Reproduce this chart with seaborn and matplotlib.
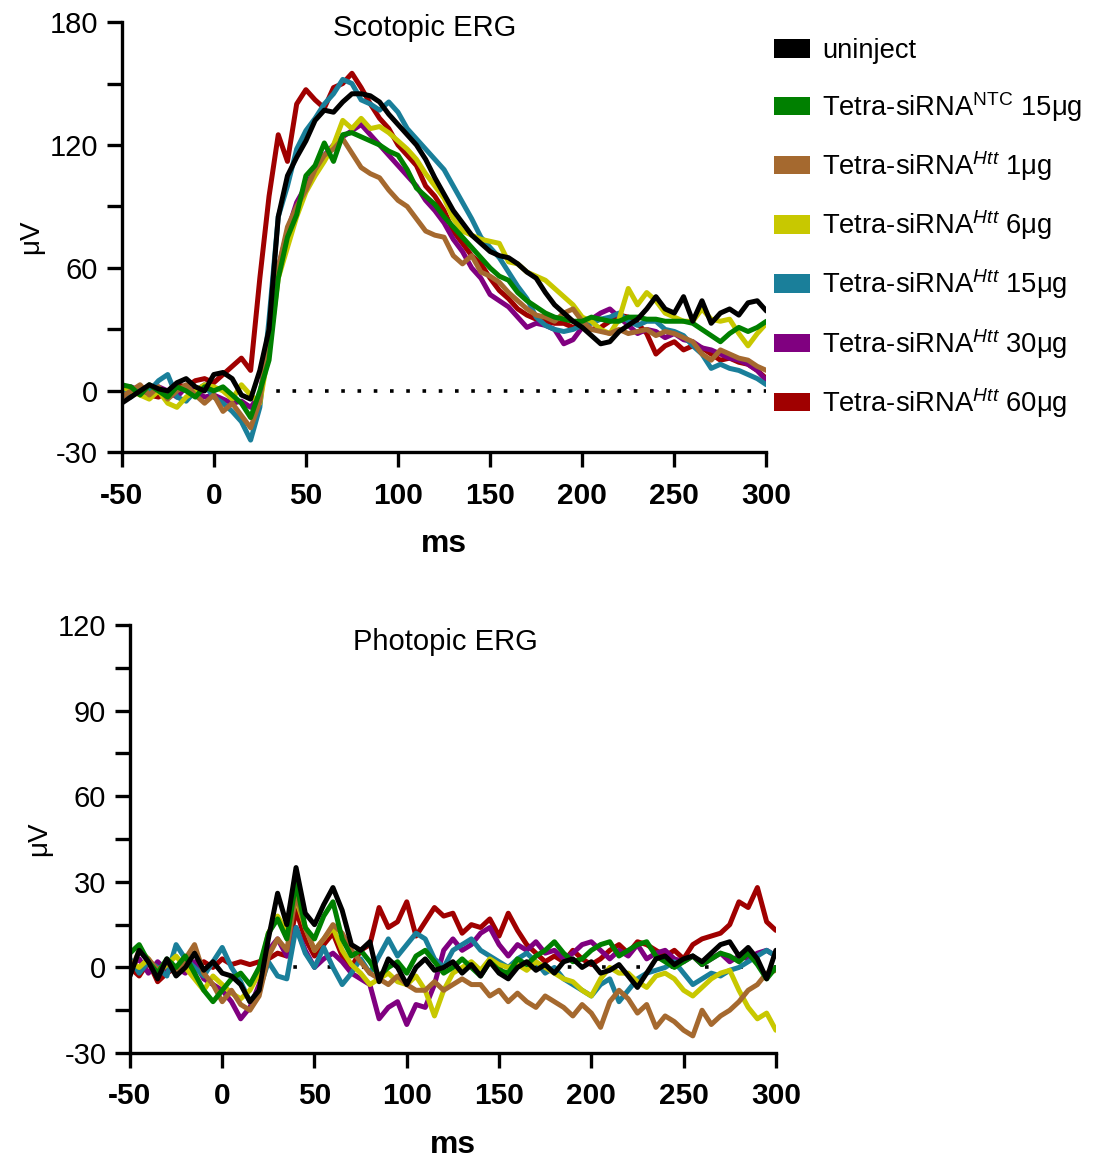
import numpy as np
import pandas as pd
import seaborn as sns
import matplotlib.pyplot as plt
from matplotlib.patches import Patch
from matplotlib.ticker import FixedLocator

# time axis (ms), values every 5 ms
t = np.arange(-50, 301, 5)

groups = ["uninject", "NTC 15", "Htt 1", "Htt 6", "Htt 15", "Htt 30", "Htt 60"]
labels = [
    "uninject",
    r"Tetra-siRNA$^{\mathrm{NTC}}$ 15μg",
    r"Tetra-siRNA$^{Htt}$ 1μg",
    r"Tetra-siRNA$^{Htt}$ 6μg",
    r"Tetra-siRNA$^{Htt}$ 15μg",
    r"Tetra-siRNA$^{Htt}$ 30μg",
    r"Tetra-siRNA$^{Htt}$ 60μg",
]
colors = ["#000000", "#008000", "#A5692F", "#C8C800", "#1A7F9A", "#800080", "#A00000"]

# Scotopic ERG (uV)
scot_uninject = [-6, -3, 0, 3, 1, 0, 4, 6, 2, 0, 8, 9, 6, -2, -4, 10, 30, 85, 105, 114, 122, 132, 137, 136, 141,
                 145, 145, 144, 141, 135, 130, 125, 120, 113, 104, 96, 88, 82, 76, 72, 68, 66, 65, 62, 58, 55, 48,
                 42, 38, 34, 31, 27, 23, 24, 29, 32, 35, 40, 46, 40, 38, 46, 34, 44, 33, 38, 40, 37, 43, 44, 39]
scot_ntc15 = [3, 2, -2, 3, 0, -3, 2, 0, -3, 2, 0, 2, -2, -6, -13, 0, 15, 55, 75, 86, 105, 110, 121, 112, 125,
              126, 124, 122, 120, 117, 115, 108, 99, 95, 91, 85, 80, 75, 70, 65, 60, 56, 54, 48, 44, 41, 38,
              36, 35, 34, 34, 36, 35, 34, 34, 36, 36, 35, 35, 34, 34, 34, 33, 30, 27, 24, 28, 31, 29, 31, 34]
scot_htt1 = [-3, 0, 3, -2, 2, -4, 0, 3, -2, -6, -2, -10, -6, -12, -18, -5, 30, 60, 80, 90, 98, 108, 115, 118, 123,
             116, 109, 106, 104, 98, 93, 90, 84, 78, 76, 75, 66, 62, 66, 58, 56, 53, 48, 44, 40, 37, 36,
             34, 38, 40, 34, 30, 29, 28, 30, 28, 29, 30, 27, 29, 28, 26, 24, 18, 15, 20, 18, 16, 15, 12, 10]
scot_htt6 = [2, 0, -2, -4, 0, -6, -8, -3, 0, 3, 2, 0, -4, 3, -2, -6, 20, 55, 70, 85, 97, 105, 112, 120, 132,
             128, 133, 128, 129, 126, 122, 118, 113, 106, 100, 94, 84, 78, 76, 74, 73, 72, 63, 62, 58, 56, 54,
             50, 46, 42, 36, 34, 30, 28, 35, 50, 42, 48, 44, 38, 36, 34, 34, 40, 35, 34, 35, 28, 22, 28, 33]
scot_htt15 = [0, -3, 2, 0, 5, 8, -3, -5, 0, 3, -3, -6, -10, -15, -24, -8, 35, 85, 100, 118, 127, 133, 140, 145, 152,
              150, 142, 140, 137, 141, 136, 128, 123, 118, 113, 108, 100, 92, 84, 75, 70, 65, 58, 51, 45, 36, 32,
              30, 29, 30, 32, 33, 35, 36, 38, 34, 32, 34, 34, 30, 29, 27, 22, 18, 11, 13, 11, 10, 8, 6, 3]
scot_htt30 = [-2, 2, 0, -3, 2, 0, -3, 2, 0, -3, -2, -4, -6, -5, -8, -2, 25, 60, 78, 92, 100, 108, 115, 120, 124,
              127, 130, 125, 120, 115, 110, 105, 100, 93, 88, 82, 74, 68, 60, 55, 47, 44, 41, 36, 31, 33, 32,
              30, 23, 25, 31, 35, 38, 40, 36, 32, 28, 30, 29, 26, 28, 25, 24, 21, 20, 18, 16, 15, 13, 10, 5]
scot_htt60 = [-3, 0, 2, -2, -3, 0, 3, 2, 5, 6, 4, 8, 12, 16, 10, 55, 95, 125, 112, 140, 147, 142, 138, 148, 150,
              155, 148, 140, 133, 128, 120, 115, 110, 100, 95, 88, 78, 72, 66, 62, 55, 49, 45, 40, 37, 35, 34,
              33, 33, 31, 32, 30, 31, 34, 37, 36, 33, 28, 18, 22, 24, 20, 22, 21, 18, 15, 16, 14, 13, 10, 6]

# Photopic ERG (uV)
phot_uninject = [-3, 6, 2, -4, 3, -3, 0, 5, -1, 2, -2, -3, -6, -12, -8, 10, 26, 15, 35, 19, 15, 22, 28, 20, 8,
                 6, 9, -5, 3, 0, -6, 0, 3, -1, 0, 2, -2, 1, -3, 2, -2, -4, 0, 2, -1, 1, -2, 2, 3, 0, 2,
                 -2, -1, 1, -3, -7, -2, 3, 4, 1, 3, 4, 2, 5, 8, 9, 4, 7, 3, -4, 6]
phot_ntc15 = [5, 8, 2, -2, 3, 0, 4, -2, -8, -12, -8, -4, -2, -6, 0, 12, 17, 10, 30, 14, 10, 18, 23, 10, 4,
              6, 2, -3, 0, 2, -2, 4, 6, 2, -2, 0, 3, 0, -3, 2, -1, -2, 3, 1, 4, 6, 9, 5, 2, 3, 6,
              8, 9, 4, 6, 8, 9, 4, 2, 0, 2, 4, 1, 3, 5, 4, 2, 5, 1, -4, 0]
phot_htt1 = [-2, 6, 3, -1, 2, -2, 3, 8, -2, -6, -12, -8, -13, -15, -10, 4, 10, 6, 26, 14, 6, 10, 15, 12, 6,
             2, -2, -4, -6, -3, -6, -8, -8, -5, -8, -6, -4, -6, -6, -10, -8, -12, -9, -12, -14, -10, -12,
             -14, -17, -13, -16, -21, -12, -8, -11, -16, -13, -21, -17, -19, -22, -24, -15, -20, -17, -15,
             -12, -8, -6, -2, -1]
phot_htt6 = [2, 0, 3, -2, 1, 4, 0, -4, -8, -3, -6, -9, -11, -8, -2, 12, 18, 12, 24, 14, 6, 10, 14, 6, 1,
             -2, -6, -4, -2, -5, -6, -3, -8, -17, -8, -2, 0, 2, -1, 3, 1, 0, 1, -1, 2, 0, -2, -4, -5, -8,
             -10, -4, 0, -2, -2, -5, -7, -3, -2, -4, -8, -10, -7, -4, -2, -1, -8, -14, -18, -16, -22]
phot_htt15 = [3, -2, 2, 0, -3, 8, 3, 0, -3, 2, 7, 0, -5, -12, -8, 2, -3, -4, 14, 5, 0, 7, 0, -6, -2,
              3, -2, 4, 10, 4, 8, 12, 10, 3, 0, 6, 8, 10, 6, 4, 2, 0, 3, 5, 2, -2, 0, -4, -6, -8, -10,
              -6, -4, -12, -8, -4, -2, -1, 0, 2, -2, -6, -4, -2, -3, -1, 0, 2, 4, 6, 4]
phot_htt30 = [0, 3, -2, 2, -1, 0, -2, 2, -4, -6, -8, -12, -18, -14, -6, 6, 10, 4, 14, 6, 0, 3, 5, 2, -2,
              -4, -6, -18, -14, -12, -20, -13, -14, -6, 6, 10, 6, 8, 12, 14, 8, 4, 8, 6, 9, 5, 6, 3, 5, 8,
              9, 6, 3, 6, 4, 8, 3, 5, 6, 3, 2, 4, 1, 3, 5, 2, 4, 3, 5, 6, 4]
phot_htt60 = [0, -3, 2, -5, -2, 0, 3, -1, 2, 0, 3, 1, 2, 1, 2, 3, 5, 4, 20, 10, 4, 8, 12, 4, 0,
              6, 8, 21, 14, 16, 23, 11, 16, 21, 18, 19, 12, 15, 14, 17, 11, 19, 13, 8, 5, 2, 4, 2, 6, 3,
              1, 3, 6, 8, 5, 9, 8, 6, 4, 6, 3, 8, 10, 11, 12, 15, 23, 21, 28, 16, 13]

scot = [scot_uninject, scot_ntc15, scot_htt1, scot_htt6, scot_htt15, scot_htt30, scot_htt60]
phot = [phot_uninject, phot_ntc15, phot_htt1, phot_htt6, phot_htt15, phot_htt30, phot_htt60]

sns.set_style("ticks")
plt.rcParams["font.family"] = ["Liberation Sans", "DejaVu Sans"]
plt.rcParams["mathtext.fontset"] = "custom"
plt.rcParams["mathtext.rm"] = "Liberation Sans"
plt.rcParams["mathtext.it"] = "Liberation Sans:italic"
plt.rcParams["mathtext.bf"] = "Liberation Sans:bold"
plt.rcParams["axes.unicode_minus"] = False
for k in ["text.color", "axes.labelcolor", "axes.edgecolor", "xtick.color", "ytick.color"]:
    plt.rcParams[k] = "black"

fig = plt.figure(figsize=(11.06, 11.6), dpi=100)
ax1 = fig.add_axes([0.110, 0.610, 0.583, 0.371])
ax2 = fig.add_axes([0.1175, 0.0922, 0.584, 0.369])


def draw_panel(ax, series, ylim, majors, minors, title, tx, ty, zero_start, zero_dash):
    df = pd.DataFrame({"ms": np.tile(t, len(groups)),
                       "uV": np.concatenate(series),
                       "group": np.repeat(groups, len(t))})
    # draw in reverse so the uninjected trace ends up on top
    for g, c in reversed(list(zip(groups, colors))):
        sns.lineplot(data=df[df["group"] == g], x="ms", y="uV", color=c, lw=3.6, ax=ax)
    ax.hlines(0, zero_start, 300, colors="black", lw=2.6, linestyles=[(0, zero_dash)], zorder=0)
    ax.set_xlim(-50, 300)
    ax.set_ylim(*ylim)
    ax.set_xticks(range(-50, 301, 50))
    ax.set_yticks(majors)
    ax.yaxis.set_minor_locator(FixedLocator(minors))
    sns.despine(ax=ax)
    for s in ["left", "bottom"]:
        ax.spines[s].set_linewidth(2.4)
    ax.tick_params(axis="both", which="both", length=11, width=2.4, direction="out")
    ax.tick_params(axis="y", labelsize=21, pad=6)
    ax.tick_params(axis="x", labelsize=21.5, pad=10)
    for lab in ax.get_xticklabels():
        lab.set_fontweight("bold")
    ax.set_xlabel("ms", fontsize=23, fontweight="bold", labelpad=14)
    ax.set_ylabel("μV", fontsize=20, labelpad=4)
    ax.text(tx, ty, title, transform=ax.transAxes, ha="center", va="center", fontsize=21)


draw_panel(ax1, scot, (-30, 180), [-30, 0, 60, 120, 180], [30, 90, 150],
           "Scotopic ERG", 0.470, 0.986, 25, (1, 3.5))
draw_panel(ax2, phot, (-30, 120), [-30, 0, 30, 60, 90, 120], [-15, 15, 45, 75, 105],
           "Photopic ERG", 0.489, 0.960, 20, (1, 8.5))

handles = [Patch(facecolor=c, edgecolor="none") for c in colors]
fig.legend(handles, labels, loc="upper left", bbox_to_anchor=(0.700, 0.967), frameon=False,
           fontsize=19.7, handlelength=1.31, handleheight=0.66, handletextpad=0.45,
           labelspacing=0.93, borderpad=0, borderaxespad=0)

fig.savefig("out.png", dpi=100)
